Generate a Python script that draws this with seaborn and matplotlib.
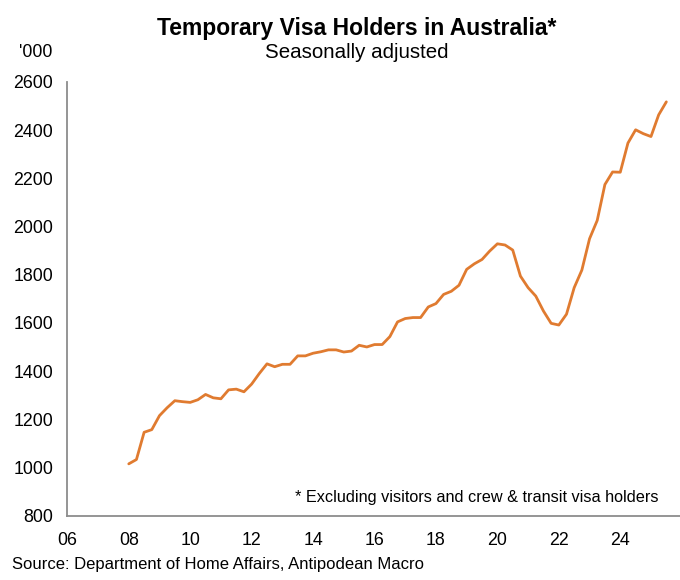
import numpy as np
import pandas as pd
import matplotlib
matplotlib.use("Agg")
import matplotlib.pyplot as plt
import seaborn as sns

# =========================================================
# DATA  ('000 temporary visa holders, quarterly, s.a.)
# =========================================================

quarters = np.arange(2008.0, 2025.51, 0.25)

holders = [
    1015, 1033, 1146, 1157,   # 2008
    1215, 1248, 1277, 1273,   # 2009
    1270, 1281, 1303, 1289,   # 2010
    1285, 1322, 1325, 1314,   # 2011
    1346, 1390, 1430, 1418,   # 2012
    1428, 1428, 1463, 1463,   # 2013
    1474, 1480, 1488, 1488,   # 2014
    1479, 1483, 1507, 1500,   # 2015
    1510, 1510, 1543, 1604,   # 2016
    1618, 1622, 1622, 1666,   # 2017
    1680, 1718, 1731, 1756,   # 2018
    1822, 1845, 1863, 1898,   # 2019
    1928, 1923, 1902, 1794,   # 2020
    1746, 1711, 1649, 1598,   # 2021
    1591, 1636, 1746, 1819,   # 2022
    1949, 2025, 2174, 2226,   # 2023
    2225, 2346, 2401, 2385,   # 2024
    2373, 2463, 2517,         # 2025
]

x_ticks = [2006, 2008, 2010, 2012, 2014, 2016, 2018, 2020, 2022, 2024]
x_labels = ["06", "08", "10", "12", "14", "16", "18", "20", "22", "24"]
y_ticks = [800, 1000, 1200, 1400, 1600, 1800, 2000, 2200, 2400, 2600]

df = pd.DataFrame({"quarter": quarters, "holders": holders})

# =========================================================
# PLOT
# =========================================================

sns.set_style("white")
plt.rcParams["font.family"] = ["Liberation Sans", "DejaVu Sans"]
plt.rcParams["text.color"] = "black"

AXIS_GREY = "#8c8c8c"
LINE_ORANGE = "#e07b30"

fig = plt.figure(figsize=(6.8, 5.8), dpi=100)
ax = fig.add_axes([0.099, 0.1109, 0.9035, 0.748])

sns.lineplot(data=df, x="quarter", y="holders", ax=ax,
             color=LINE_ORANGE, linewidth=2.0)

ax.set_xlim(2006, 2026)
ax.set_ylim(800, 2600)
ax.set_xticks(x_ticks)
ax.set_xticklabels(x_labels)
ax.set_yticks(y_ticks)
ax.set_xlabel("")
ax.set_ylabel("")

for side in ["top", "right"]:
    ax.spines[side].set_visible(False)
for side in ["left", "bottom"]:
    ax.spines[side].set_color(AXIS_GREY)
    ax.spines[side].set_linewidth(1.3)

ax.tick_params(axis="both", which="major", direction="out", length=3.8,
               width=1.1, color=AXIS_GREY, labelsize=12.8, labelcolor="black")
ax.tick_params(axis="x", pad=8)
ax.tick_params(axis="y", pad=6.5)

# titles and notes
fig.text(0.525, 0.950, "Temporary Visa Holders in Australia*",
         ha="center", va="center", fontsize=16.5, fontweight="bold")
fig.text(0.525, 0.909, "Seasonally adjusted",
         ha="center", va="center", fontsize=14.8)
fig.text(0.052, 0.909, "'000", ha="center", va="center", fontsize=12.8)
ax.text(0.962, 0.043, "* Excluding visitors and crew & transit visa holders",
        transform=ax.transAxes, ha="right", va="center", fontsize=11.7)
fig.text(0.018, 0.026, "Source: Department of Home Affairs, Antipodean Macro",
         ha="left", va="center", fontsize=12)

fig.savefig("out.png", dpi=100)
